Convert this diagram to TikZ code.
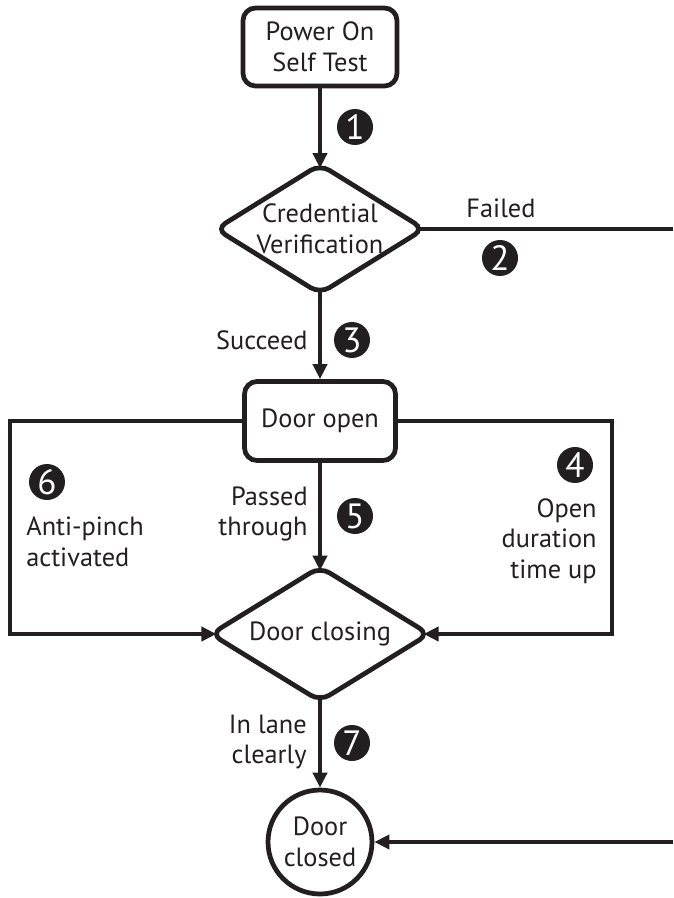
\documentclass[tikz,border=0pt]{standalone}
\usepackage{fontspec}
\setmainfont{PT Sans}
\usetikzlibrary{shapes.geometric,arrows.meta,positioning}

\definecolor{ink}{HTML}{231F20}
\newcommand{\boxline}{2.7pt}
\newcommand{\flowline}{2.1pt}
\newcommand{\textsz}{\fontsize{15}{17.5}\selectfont}

\tikzset{
  statebox/.style={draw=ink, line width=\boxline, rounded corners=0.25cm, align=center,
    text=ink, font=\textsz, minimum width=3.08cm, minimum height=1.56cm},
  decision/.style={draw=ink, diamond, line width=\boxline, rounded corners=0.22cm,
    inner sep=0pt, label={[align=center, text=ink, font=\textsz]center:#1}},
  endstate/.style={draw=ink, circle, line width=\boxline, align=center, text=ink,
    font=\textsz, minimum size=2.08cm, inner sep=0pt},
  flow/.style={draw=ink, line width=\flowline, -{Triangle[length=0.3cm,width=0.28cm]}},
  stepnum/.style={circle, fill=ink, text=white, inner sep=0pt, minimum size=0.72cm,
    font=\fontsize{20}{20}\selectfont},
  flowtext/.style={text=ink, font=\textsz, align=#1, inner sep=0pt},
  flowtext/.default=center
}

\begin{document}
\begin{tikzpicture}[x=0.02cm, y=-0.02cm]
\useasboundingbox[fill=white] (0,0) rectangle (673,898);

% states
\node[statebox] (post) at (320,47) {Power On\\Self Test};
\node[decision={Credential\\Verification}, minimum width=4.2cm, minimum height=2.62cm] (cred) at (320,229) {};
\node[statebox, minimum width=3.02cm, minimum height=1.58cm] (open) at (320,421) {Door open};
\node[decision={Door closing}, minimum width=4.4cm, minimum height=2.72cm] (closing) at (320,634) {};
\node[endstate] (closed) at (320,842) {Door\\closed};

% corners of the side loops and free ends
\coordinate (failend) at (673,229);
\coordinate (lefttop) at (10,421);
\coordinate (leftbot) at (10,634);
\coordinate (righttop) at (612,421);
\coordinate (rightbot) at (612,634);
\coordinate (closedin) at (673,842);

% connectors (diamond tips are rounded, so reach into the corner)
\draw[flow, shorten >=-4pt] (post) -- (cred);
\draw[draw=ink, line width=\flowline, shorten <=-5pt] (cred.east) -- (failend);
\draw[flow, shorten <=-4pt] (cred) -- (open);
\draw[flow, shorten >=-5pt] (open.west) -- (lefttop) -- (leftbot) -- (closing.west);
\draw[flow, shorten >=-5pt] (open.east) -- (righttop) -- (rightbot) -- (closing.east);
\draw[flow, shorten >=-4pt] (open) -- (closing);
\draw[flow, shorten <=-4pt] (closing) -- (closed);
\draw[flow] (closedin) -- (closed);

% step numbers and conditions
\node[stepnum] (n1) at (355,127) {1};
\node[flowtext] (failed) at (501,208) {Failed};
\node[stepnum] (n2) at (500,258) {2};
\node[flowtext=right, anchor=east] (succeed) at (308,340) {Succeed};
\node[stepnum] (n3) at (352,340) {3};
\node[stepnum] (n4) at (575,465) {4};
\node[flowtext=right, anchor=east] (timeup) at (597,541) {Open\\duration\\time up};
\node[flowtext=right, anchor=east] (passed) at (308,514) {Passed\\through};
\node[stepnum] (n5) at (355,516) {5};
\node[stepnum] (n6) at (47,482) {6};
\node[flowtext=left, anchor=west] (antipinch) at (26,542) {Anti-pinch\\activated};
\node[flowtext=right, anchor=east] (inlane) at (307,742) {In lane\\clearly};
\node[stepnum] (n7) at (352,743) {7};
\end{tikzpicture}
\end{document}
